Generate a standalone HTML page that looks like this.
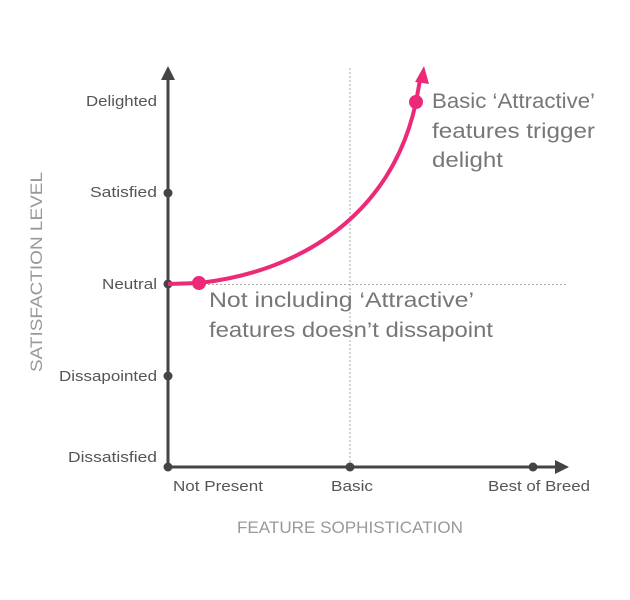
<!DOCTYPE html>
<html><head><meta charset="utf-8"><style>
html,body{margin:0;padding:0;background:#fff}
svg{display:block}
text{font-family:"Liberation Sans",sans-serif}
</style></head><body>
<svg width="630" height="600" viewBox="0 0 630 600">
<line x1="350" y1="68" x2="350" y2="467" stroke="#aaa" stroke-width="1" stroke-dasharray="2,2"/>
<line x1="168" y1="284.5" x2="568" y2="284.5" stroke="#aaa" stroke-width="1" stroke-dasharray="2,2"/>
<line x1="168" y1="467" x2="168" y2="78" stroke="#444" stroke-width="3"/>
<polygon points="168,66 161,80 175,80" fill="#444"/>
<line x1="168" y1="467" x2="556" y2="467" stroke="#444" stroke-width="3"/>
<polygon points="569,467 555,460 555,474" fill="#444"/>
<g fill="#444">
<circle cx="168" cy="193" r="4.5"/><circle cx="168" cy="284" r="4.5"/><circle cx="168" cy="376" r="4.5"/><circle cx="168" cy="467" r="4.5"/>
<circle cx="350" cy="467" r="4.5"/><circle cx="533" cy="467" r="4.5"/>
</g>
<g font-size="15" fill="#555" lengthAdjust="spacingAndGlyphs">
<text x="86" y="106" textLength="71" lengthAdjust="spacingAndGlyphs">Delighted</text>
<text x="90" y="197" textLength="67" lengthAdjust="spacingAndGlyphs">Satisfied</text>
<text x="102" y="289" textLength="55" lengthAdjust="spacingAndGlyphs">Neutral</text>
<text x="59" y="381" textLength="98" lengthAdjust="spacingAndGlyphs">Dissapointed</text>
<text x="68" y="462" textLength="89" lengthAdjust="spacingAndGlyphs">Dissatisfied</text>
<text x="173" y="491" textLength="90" lengthAdjust="spacingAndGlyphs">Not Present</text>
<text x="331" y="491" textLength="42" lengthAdjust="spacingAndGlyphs">Basic</text>
<text x="488" y="491" textLength="102" lengthAdjust="spacingAndGlyphs">Best of Breed</text>
</g>
<text x="237" y="533" font-size="17" fill="#999" textLength="226" lengthAdjust="spacingAndGlyphs">FEATURE SOPHISTICATION</text>
<text transform="translate(42,372) rotate(-90)" font-size="17" fill="#999" textLength="200" lengthAdjust="spacingAndGlyphs">SATISFACTION LEVEL</text>
<path d="M168,284 L199,283 C300,272 392,215 416,102 L420,80" fill="none" stroke="#ec2a78" stroke-width="4"/>
<polygon points="424,66 415,82 429,84" fill="#ec2a78"/>
<circle cx="199" cy="283" r="7" fill="#ec2a78"/>
<circle cx="416" cy="102" r="7" fill="#ec2a78"/>
<g font-size="21" fill="#777">
<text x="432" y="108" textLength="163" lengthAdjust="spacingAndGlyphs">Basic ‘Attractive’</text>
<text x="432" y="138" textLength="163" lengthAdjust="spacingAndGlyphs">features trigger</text>
<text x="432" y="167" textLength="71" lengthAdjust="spacingAndGlyphs">delight</text>
<text x="209" y="307" textLength="265" lengthAdjust="spacingAndGlyphs">Not including ‘Attractive’</text>
<text x="209" y="337" textLength="284" lengthAdjust="spacingAndGlyphs">features doesn’t dissapoint</text>
</g>
</svg>
</body></html>
